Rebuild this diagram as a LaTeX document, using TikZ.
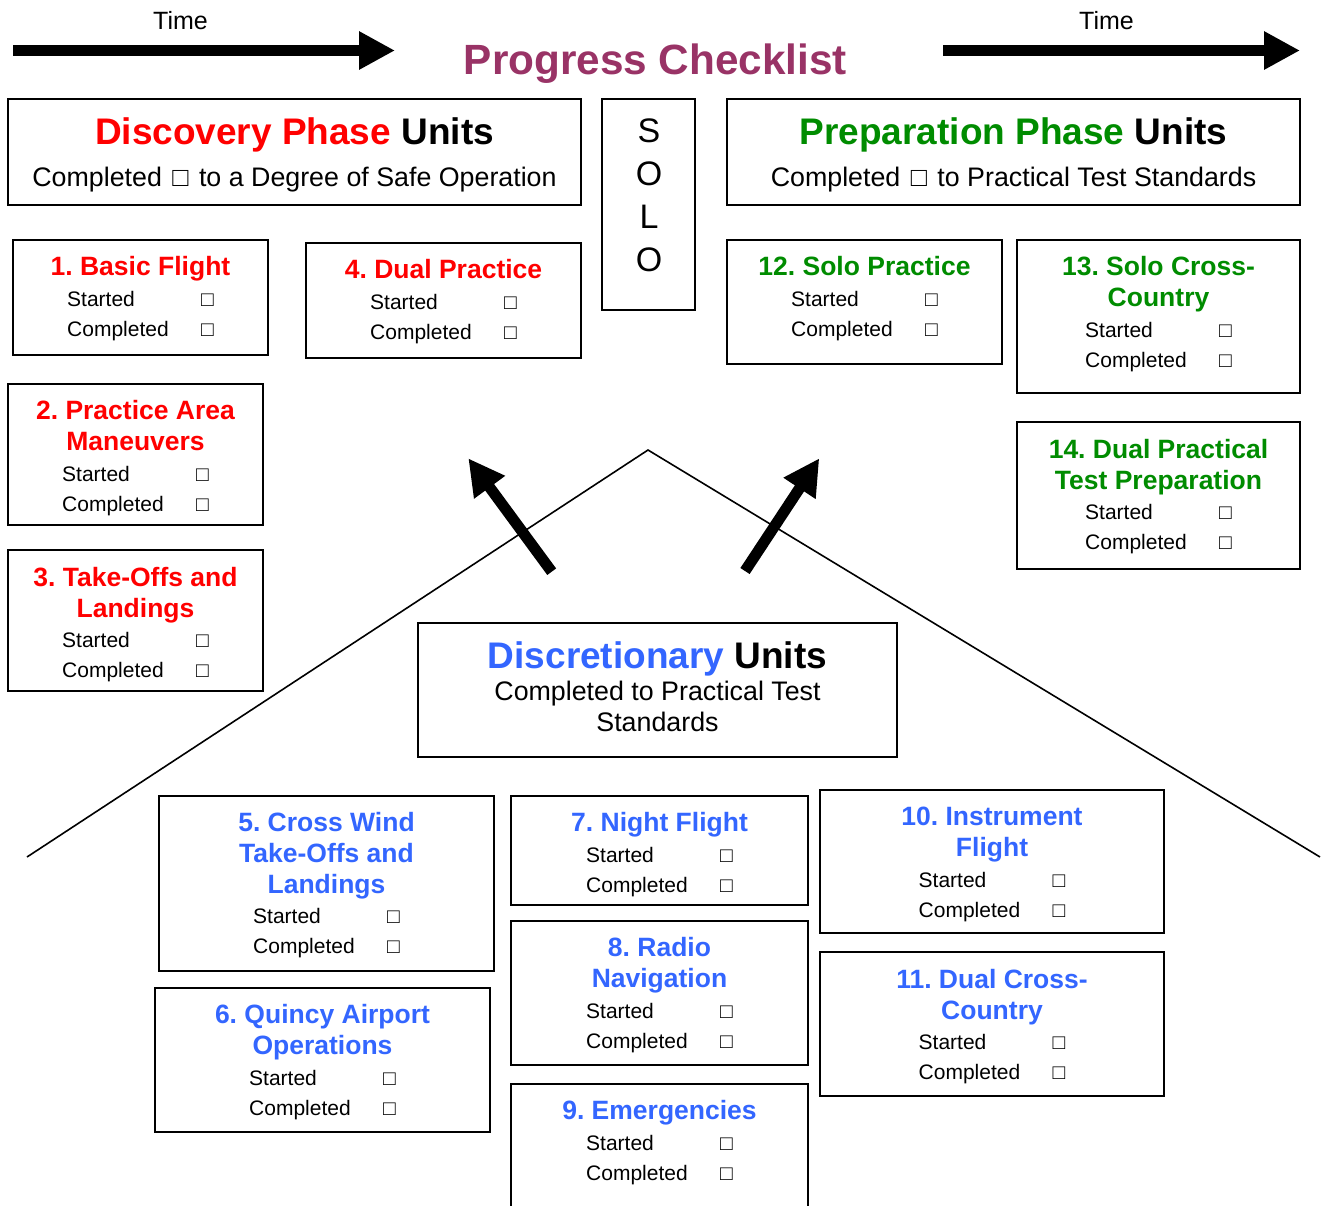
\documentclass[tikz,border=0pt]{standalone}
\usepackage{fontspec}
\setmainfont{Liberation Sans}
\usetikzlibrary{arrows.meta,fit}
\frenchspacing
\definecolor{dred}{RGB}{255,0,0}
\definecolor{dgreen}{RGB}{0,140,0}
\definecolor{dblue}{RGB}{51,102,255}
\definecolor{dpurple}{RGB}{153,51,102}
\newcommand\cbx{□}
\newcommand\hcbx{\hspace{3pt}□\hspace{3pt}}
\newcommand\ubox[5]{\node[ubx, fit={(#2,#3) (#4,#5)}] (#1) {};}
\newcommand\utitle[5]{\node[ttl, text=#2, anchor=base] (#1) at (#3,#4) {#5};}
\newcommand\stcp[3]{%
  \node[sub, anchor=base west] (#1-s) at ({#2-73.5},#3) {Started};
  \node[sub, anchor=base east] (#1-sb) at ({#2+73.5},#3) {\cbx};
  \node[sub, anchor=base west] (#1-c) at ({#2-73.5},{#3+30.5}) {Completed};
  \node[sub, anchor=base east] (#1-cb) at ({#2+73.5},{#3+30.5}) {\cbx};
}
\tikzset{
  ubx/.style={draw, line width=2pt, inner sep=0pt, rectangle},
  ttl/.style={inner sep=0pt, font=\fontsize{26.5}{31}\selectfont\bfseries},
  sub/.style={inner sep=0pt, font=\fontsize{21}{25}\selectfont},
  hdr/.style={inner sep=0pt, anchor=base, font=\fontsize{37}{40}\selectfont\bfseries},
  hsub/.style={inner sep=0pt, anchor=base, font=\fontsize{26.8}{31}\selectfont},
  solol/.style={inner sep=0pt, anchor=base, font=\fontsize{34}{40}\selectfont},
  timel/.style={inner sep=0pt, anchor=base, font=\fontsize{25}{30}\selectfont},
  bigarrow/.style={line width=11pt, -{Triangle[length=36pt,width=36pt]}},
  roof/.style={line width=1.6pt}
}
\begin{document}
\begin{tikzpicture}[x=1pt,y=-1pt]
\useasboundingbox (0,0) rectangle (1328,1205);
\fill[white] (0,0) rectangle (1328,1205);

% roof
\coordinate (rl) at (27,857);
\coordinate (rp) at (648,450);
\coordinate (rr) at (1320,857);
\draw[roof] (rl) -- (rp) -- (rr);

% time arrows
\coordinate (t1a) at (13,50.5);
\coordinate (t1b) at (395,50.5);
\coordinate (t2a) at (943,50.5);
\coordinate (t2b) at (1300,50.5);
\draw[bigarrow] (t1a) -- (t1b);
\draw[bigarrow] (t2a) -- (t2b);
\node[timel] (time1) at (180.5,29.3) {Time};
\node[timel] (time2) at (1106.5,29.3) {Time};

% title
\node[inner sep=0pt, anchor=base, text=dpurple, font=\fontsize{42.3}{48}\selectfont\bfseries] (title) at (655.5,74.3) {Progress Checklist};

% diagonal arrows
\coordinate (a1a) at (551.7,571.7);
\coordinate (a1b) at (468.3,458.3);
\coordinate (a2a) at (745,571);
\coordinate (a2b) at (819.3,458.3);
\draw[bigarrow] (a1a) -- (a1b);
\draw[bigarrow] (a2a) -- (a2b);

% headers
\ubox{disc}{8}{99}{581}{205}
\node[hdr] (disct) at (294.5,144) {\textcolor{dred}{Discovery Phase} Units};
\node[hsub] (discs) at (294.5,186.3) {Completed \hcbx{} to a Degree of Safe Operation};

\ubox{solo}{602}{99}{695}{310}
\node[solol] (solo1) at (649,142.5) {S};
\node[solol] (solo2) at (649,185.5) {O};
\node[solol] (solo3) at (649,228.5) {L};
\node[solol] (solo4) at (649,271.5) {O};

\ubox{prep}{727}{99}{1300}{205}
\node[hdr] (prept) at (1013.5,144) {\textcolor{dgreen}{Preparation Phase} Units};
\node[hsub] (preps) at (1013.5,186.3) {Completed \hcbx{} to Practical Test Standards};

\ubox{discr}{418}{623}{897}{757}
\node[hdr] (discrt) at (657.5,668.7) {\textcolor{dblue}{Discretionary} Units};
\node[hsub] (discrs1) at (657.5,700) {Completed to Practical Test};
\node[hsub] (discrs2) at (657.5,731) {Standards};

% red units
\ubox{u1}{13}{240}{268}{355}
\utitle{u1t}{dred}{140.5}{275.5}{1. Basic Flight}
\stcp{u1}{140.5}{306}

\ubox{u4}{306}{243}{581}{358}
\utitle{u4t}{dred}{443.5}{278.5}{4. Dual Practice}
\stcp{u4}{443.5}{309}

\ubox{u2}{8}{384}{263}{525}
\utitle{u2t1}{dred}{135.5}{419.5}{2. Practice Area}
\utitle{u2t2}{dred}{135.5}{450.5}{Maneuvers}
\stcp{u2}{135.5}{481}

\ubox{u3}{8}{550}{263}{691}
\utitle{u3t1}{dred}{135.5}{586.5}{3. Take-Offs and}
\utitle{u3t2}{dred}{135.5}{617}{Landings}
\stcp{u3}{135.5}{647}

% green units
\ubox{u12}{727}{240}{1002}{364}
\utitle{u12t}{dgreen}{864.5}{275.5}{12. Solo Practice}
\stcp{u12}{864.5}{306}

\ubox{u13}{1017}{240}{1300}{393}
\utitle{u13t1}{dgreen}{1158.5}{275.5}{13. Solo Cross-}
\utitle{u13t2}{dgreen}{1158.5}{306.5}{Country}
\stcp{u13}{1158.5}{337}

\ubox{u14}{1017}{422}{1300}{569}
\utitle{u14t1}{dgreen}{1158.5}{458.5}{14. Dual Practical}
\utitle{u14t2}{dgreen}{1158.5}{489}{Test Preparation}
\stcp{u14}{1158.5}{519}

% blue units
\ubox{u5}{159}{796}{494}{971}
\utitle{u5t1}{dblue}{326.5}{831.5}{5. Cross Wind}
\utitle{u5t2}{dblue}{326.5}{862.5}{Take-Offs and}
\utitle{u5t3}{dblue}{326.5}{893.5}{Landings}
\stcp{u5}{326.5}{923}

\ubox{u6}{155}{988}{490}{1132}
\utitle{u6t1}{dblue}{322.5}{1023.5}{6. Quincy Airport}
\utitle{u6t2}{dblue}{322.5}{1054.5}{Operations}
\stcp{u6}{322.5}{1085}

\ubox{u7}{511}{796}{808}{905}
\utitle{u7t}{dblue}{659.5}{831.5}{7. Night Flight}
\stcp{u7}{659.5}{862}

\ubox{u8}{511}{921}{808}{1065}
\utitle{u8t1}{dblue}{659.5}{956.5}{8. Radio}
\utitle{u8t2}{dblue}{659.5}{987.5}{Navigation}
\stcp{u8}{659.5}{1018}

\ubox{u9}{511}{1084}{808}{1220}
\utitle{u9t}{dblue}{659.5}{1119.5}{9. Emergencies}
\stcp{u9}{659.5}{1150}

\ubox{u10}{820}{790}{1164}{933}
\utitle{u10t1}{dblue}{992}{825.5}{10. Instrument}
\utitle{u10t2}{dblue}{992}{856.5}{Flight}
\stcp{u10}{992}{887}

\ubox{u11}{820}{952}{1164}{1096}
\utitle{u11t1}{dblue}{992}{988.5}{11. Dual Cross-}
\utitle{u11t2}{dblue}{992}{1019}{Country}
\stcp{u11}{992}{1049}
\end{tikzpicture}
\end{document}
